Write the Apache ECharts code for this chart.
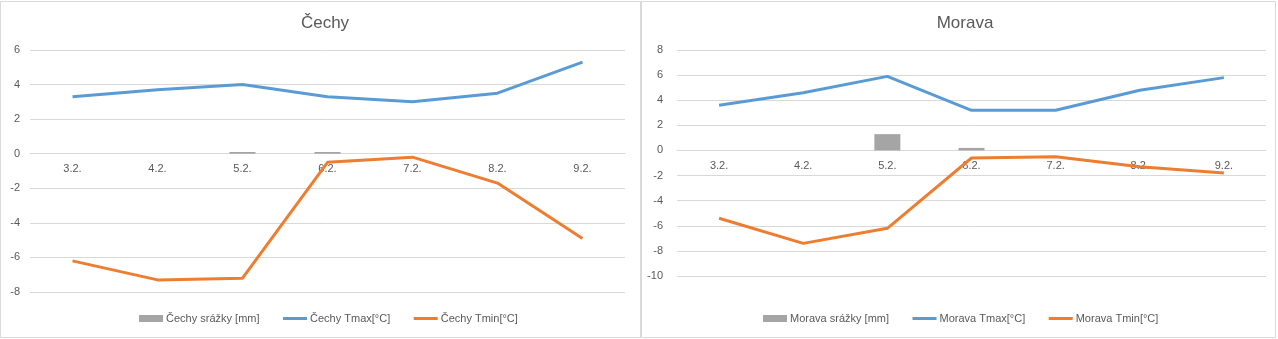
<!DOCTYPE html>
<html>
<head>
<meta charset="utf-8">
<script src="https://cdn.jsdelivr.net/npm/echarts@6/dist/echarts.min.js"></script>
<style>html,body{margin:0;padding:0;background:#fff}#c{width:1278px;height:339px}</style>
</head>
<body>
<div id="c"></div>
<script>
const categories = ['3.2.', '4.2.', '5.2.', '6.2.', '7.2.', '8.2.', '9.2.'];
const cechySrazky = [0, 0, 0.1, 0.1, 0, 0, 0];
const cechyTmax = [3.3, 3.7, 4.0, 3.3, 3.0, 3.5, 5.3];
const cechyTmin = [-6.2, -7.3, -7.2, -0.5, -0.2, -1.7, -4.9];
const moravaSrazky = [0, 0, 1.3, 0.2, 0, 0, 0];
const moravaTmax = [3.6, 4.6, 5.9, 3.2, 3.2, 4.8, 5.8];
const moravaTmin = [-5.4, -7.4, -6.2, -0.6, -0.5, -1.3, -1.8];
const cechyTicks = { min: -8, max: 6, interval: 2 };
const moravaTicks = { min: -10, max: 8, interval: 2 };

const FONT = 'Liberation Sans';
const TXT = '#595959';
const GRID = '#d9d9d9';
const C_BAR = '#a5a5a5', C_MAX = '#5b9bd5', C_MIN = '#ed7d31';

const grids = [
  { left: 30, width: 595, top: 50, height: 242 },
  { left: 677, width: 589, top: 50, height: 226 }
];
const ticks = [cechyTicks, moravaTicks];

const chart = echarts.init(document.getElementById('c'), null, { renderer: 'canvas' });

function xAx(gi) {
  const t = ticks[gi], g = grids[gi];
  // place the category axis at value 0 of the value axis
  const zeroOffset = -g.height * (0 - t.min) / (t.max - t.min);
  return {
    type: 'category', gridIndex: gi, data: categories, boundaryGap: true,
    position: 'bottom', offset: zeroOffset,
    axisLine: { show: true, onZero: false, lineStyle: { color: GRID, width: 1 } },
    axisTick: { show: false },
    axisLabel: { color: TXT, fontFamily: FONT, fontSize: 11, margin: 10 },
    splitLine: { show: false }
  };
}
function yAx(gi, t, margin) {
  return {
    type: 'value', gridIndex: gi, min: t.min, max: t.max, interval: t.interval,
    axisLine: { show: false }, axisTick: { show: false },
    axisLabel: { color: TXT, fontFamily: FONT, fontSize: 11, margin },
    splitLine: { show: true, lineStyle: { color: GRID, width: 1 } }
  };
}
function lineS(name, data, color, idx) {
  return { name, type: 'line', data, xAxisIndex: idx, yAxisIndex: idx, z: 3,
    symbol: 'none', showSymbol: false, lineStyle: { color, width: 3 }, itemStyle: { color } };
}
function barS(name, data, idx) {
  return { name, type: 'bar', data, xAxisIndex: idx, yAxisIndex: idx,
    barWidth: 26, itemStyle: { color: C_BAR } };
}
function legend(left, names) {
  return {
    left, top: 313, padding: 0, itemWidth: 24, itemHeight: 7, itemGap: 22,
    textStyle: { color: TXT, fontFamily: FONT, fontSize: 11, padding: [0, 0, 0, -2] },
    data: [
      { name: names[0], icon: 'rect' },
      { name: names[1], itemStyle: { opacity: 0 }, lineStyle: { width: 3 } },
      { name: names[2], itemStyle: { opacity: 0 }, lineStyle: { width: 3 } }
    ]
  };
}

chart.setOption({
  backgroundColor: '#fff',
  animation: false,
  title: [
    { text: 'Čechy', left: 320, textAlign: 'center', top: 10,
      textStyle: { color: TXT, fontFamily: FONT, fontSize: 17, fontWeight: 'normal' } },
    { text: 'Morava', left: 960, textAlign: 'center', top: 10,
      textStyle: { color: TXT, fontFamily: FONT, fontSize: 17, fontWeight: 'normal' } }
  ],
  legend: [
    legend(139, ['Čechy srážky [mm]', 'Čechy Tmax[°C]', 'Čechy Tmin[°C]']),
    legend(763, ['Morava srážky [mm]', 'Morava Tmax[°C]', 'Morava Tmin[°C]'])
  ],
  grid: grids,
  xAxis: [xAx(0), xAx(1)],
  yAxis: [yAx(0, cechyTicks, 10), yAx(1, moravaTicks, 14)],
  series: [
    barS('Čechy srážky [mm]', cechySrazky, 0),
    lineS('Čechy Tmax[°C]', cechyTmax, C_MAX, 0),
    lineS('Čechy Tmin[°C]', cechyTmin, C_MIN, 0),
    barS('Morava srážky [mm]', moravaSrazky, 1),
    lineS('Morava Tmax[°C]', moravaTmax, C_MAX, 1),
    lineS('Morava Tmin[°C]', moravaTmin, C_MIN, 1)
  ],
  graphic: [
    { type: 'rect', shape: { x: 0.5, y: 1.5, width: 640, height: 336 }, style: { fill: 'none', stroke: GRID, lineWidth: 1 }, silent: true },
    { type: 'rect', shape: { x: 641.5, y: 1.5, width: 634, height: 336 }, style: { fill: 'none', stroke: GRID, lineWidth: 1 }, silent: true }
  ]
});
</script>
</body>
</html>
